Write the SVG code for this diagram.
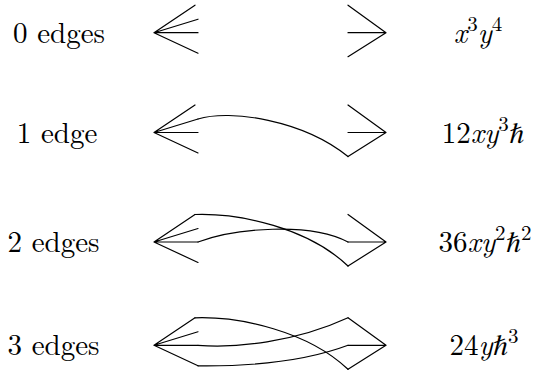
<svg xmlns="http://www.w3.org/2000/svg" width="536" height="370" viewBox="0 0 536 370">
<style>
.ln{fill:none;stroke:#000;stroke-width:1.2;stroke-linecap:round;stroke-linejoin:round}
.t{font-family:"CMU Serif","Latin Modern Roman","Liberation Serif","Tinos","Nimbus Roman","Nimbus Roman No9 L","FreeSerif","Noto Serif","DejaVu Serif","Times New Roman",Times,Georgia,serif;font-size:29px;fill:#000}
.m{font-style:italic}
.s{font-size:21px}
</style>
<defs>
<path id="lv" class="ln" d="M195,-27.5 L154,0 L198,-13.5 M154,0 L198,0 M154,0 L198,20.5"/>
<path id="rv" class="ln" d="M348,-27.5 L386,0 L348,24 M348,0 L386,0"/>
</defs>
<g id="row0">
<g id="lbl0"><text class="t" x="59" y="42.7" text-anchor="middle">0 edges</text></g>
<g id="l0" transform="translate(0,32.7)"><use href="#lv"/></g>
<g id="r0" transform="translate(0,32.7)"><use href="#rv"/></g>
<g id="w0"><text class="t" x="478" y="42.7" text-anchor="middle"><tspan class="m">x</tspan><tspan class="s" dy="-12">3</tspan><tspan class="m" dy="12">y</tspan><tspan class="s" dy="-12">4</tspan></text></g>
</g>
<g id="row1">
<g id="lbl1"><text class="t" x="57" y="142.5" text-anchor="middle">1 edge</text></g>
<g id="l1" transform="translate(0,132.5)"><use href="#lv"/></g>
<g id="r1" transform="translate(0,132.5)"><use href="#rv"/></g>
<g id="w1"><text class="t" x="483" y="142.5" text-anchor="middle">12<tspan class="m">xy</tspan><tspan class="s" dy="-12">3</tspan><tspan class="m" dy="12">ℏ</tspan></text></g>
</g>
<g id="row2">
<g id="lbl2"><text class="t" x="53.5" y="252" text-anchor="middle">2 edges</text></g>
<g id="l2" transform="translate(0,242)"><use href="#lv"/></g>
<g id="r2" transform="translate(0,242)"><use href="#rv"/></g>
<g id="w2"><text class="t" x="485" y="252" text-anchor="middle">36<tspan class="m">xy</tspan><tspan class="s" dy="-12">2</tspan><tspan class="m" dy="12">ℏ</tspan><tspan class="s" dy="-12">2</tspan></text></g>
</g>
<g id="row3">
<g id="lbl3"><text class="t" x="53.5" y="355.3" text-anchor="middle">3 edges</text></g>
<g id="l3" transform="translate(0,345.3)"><use href="#lv"/></g>
<g id="r3" transform="translate(0,345.3)"><use href="#rv"/></g>
<g id="w3"><text class="t" x="484" y="355.3" text-anchor="middle">24<tspan class="m">yℏ</tspan><tspan class="s" dy="-12">3</tspan></text></g>
</g>
<g id="connectors">
<g transform="translate(0,132.5)"><path class="ln" d="M198,-13.5 C230,-23.5 303,-12.5 348,24"/></g>
<g transform="translate(0,242)"><path class="ln" d="M195,-27.5 C240,-29 308,-14 348,24"/><path class="ln" d="M198,0 C235,-14 310,-20 348,0"/></g>
<g transform="translate(0,345.3)"><path class="ln" d="M195,-27.5 C240,-29 308,-14 348,24"/><path class="ln" d="M198,0 C235,3 295,-3 348,-27.5"/><path class="ln" d="M198,20.5 C240,21 300,18 348,0"/></g>
</g>
</svg>
